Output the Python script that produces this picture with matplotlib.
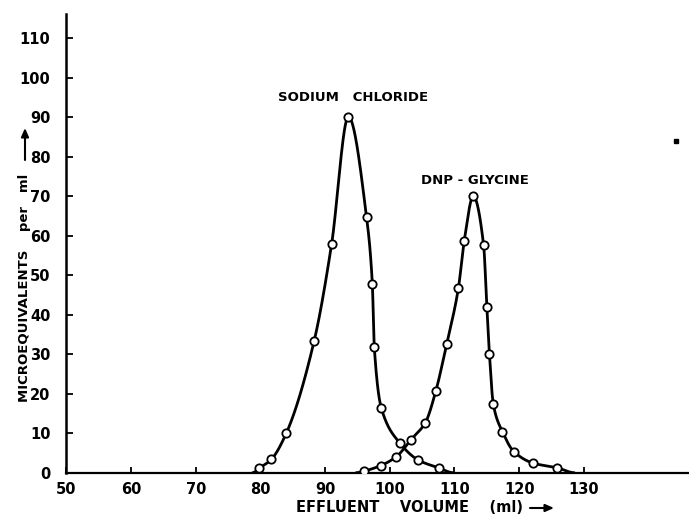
import numpy as np
import matplotlib
matplotlib.use("Agg")
import matplotlib.pyplot as plt

# ---- data ----
nacl_x = [79.8, 81.7, 84.0, 88.3, 91.0, 93.6, 96.4, 97.3, 97.6, 98.7, 101.5, 104.4, 107.6]
nacl_y = [1.1, 3.4, 10.0, 33.3, 57.8, 90.1, 64.8, 47.8, 31.9, 16.3, 7.6, 3.2, 1.2]
nacl_start = (78.8, 0.0)
nacl_end = (109.8, 0.0)

dnp_x = [96.0, 98.6, 101.0, 103.3, 105.5, 107.1, 108.8, 110.6, 111.5, 112.9,
         114.5, 115.0, 115.4, 116.0, 117.4, 119.2, 122.2, 125.9]
dnp_y = [0.4, 1.8, 4.05, 8.4, 12.7, 20.6, 32.7, 46.7, 58.7, 70.0,
         57.6, 42.0, 30.0, 17.3, 10.4, 5.3, 2.4, 1.25]
dnp_start = (94.8, 0.0)
dnp_end = (128.5, 0.0)

x_ticks = [50, 60, 70, 80, 90, 100, 110, 120, 130]
y_ticks = [0, 10, 20, 30, 40, 50, 60, 70, 80, 90, 100, 110]

label_nacl = "SODIUM   CHLORIDE"
label_dnp = "DNP - GLYCINE"
label_nacl_pos = (94.3, 95.1)
label_dnp_pos = (113.2, 74.1)

speck_x = [144.2]
speck_y = [84.0]

W, H = 689, 516


def pchip(x, y, xs):
    x = np.asarray(x, float)
    y = np.asarray(y, float)
    h = np.diff(x)
    delta = np.diff(y) / h
    n = len(x)
    d = np.zeros(n)
    for k in range(1, n - 1):
        if delta[k - 1] * delta[k] > 0:
            w1 = 2 * h[k] + h[k - 1]
            w2 = h[k] + 2 * h[k - 1]
            d[k] = (w1 + w2) / (w1 / delta[k - 1] + w2 / delta[k])
    d[0] = 0.0 if y[0] == 0 else delta[0]
    d[-1] = 0.0 if y[-1] == 0 else delta[-1]
    out = np.empty_like(xs)
    idx = np.clip(np.searchsorted(x, xs) - 1, 0, n - 2)
    for i, xv in enumerate(xs):
        k = idx[i]
        t = (xv - x[k]) / h[k]
        h00 = 2 * t**3 - 3 * t**2 + 1
        h10 = t**3 - 2 * t**2 + t
        h01 = -2 * t**3 + 3 * t**2
        h11 = t**3 - t**2
        out[i] = h00 * y[k] + h10 * h[k] * d[k] + h01 * y[k + 1] + h11 * h[k] * d[k + 1]
    return out


fig = plt.figure(figsize=(W / 100, H / 100), dpi=100)
ax = fig.add_axes([66.3 / W, (H - 472.7) / H, (W - 66.3) / W, (472.7 - 14) / H])

# NaCl curve
cx = [nacl_start[0]] + nacl_x + [nacl_end[0]]
cy = [nacl_start[1]] + nacl_y + [nacl_end[1]]
xs = np.linspace(cx[0], cx[-1], 800)
ax.plot(xs, pchip(cx, cy, xs), color="black", lw=2.0, solid_capstyle="round", zorder=2)

# DNP curve
dx = [dnp_start[0]] + dnp_x + [dnp_end[0]]
dy = [dnp_start[1]] + dnp_y + [dnp_end[1]]
xs2 = np.linspace(dx[0], dx[-1], 800)
ax.plot(xs2, pchip(dx, dy, xs2), color="black", lw=2.0, solid_capstyle="round", zorder=2)

mk = dict(ls="none", marker="o", ms=6, mfc="white", mec="black", mew=1.3, zorder=3)
ax.plot(nacl_x, nacl_y, **mk)
ax.plot(dnp_x, dnp_y, **mk)

ax.plot(speck_x, speck_y, ls="none", marker="s", ms=2.5, color="black", clip_on=False)

ax.text(label_nacl_pos[0], label_nacl_pos[1], label_nacl, ha="center", va="center",
        fontsize=9.5, fontweight="bold")
ax.text(label_dnp_pos[0], label_dnp_pos[1], label_dnp, ha="center", va="center",
        fontsize=9.5, fontweight="bold")

ax.set_xlim(50, 50 + (W - 66.3) / 6.47)
ax.set_ylim(0, (472.7 - 14) / 3.95)
ax.set_xticks(x_ticks)
ax.set_xticklabels([str(v) for v in x_ticks], fontsize=10.5, fontweight="bold")
ax.set_yticks(y_ticks)
ax.set_yticklabels([str(v) for v in y_ticks], fontsize=10.5, fontweight="bold")
ax.tick_params(axis="both", direction="in", width=1.3, colors="black")
ax.tick_params(axis="y", pad=11.5, length=5)
ax.tick_params(axis="x", pad=7, length=4)
for s in ["top", "right"]:
    ax.spines[s].set_visible(False)
ax.spines["left"].set_linewidth(1.8)
ax.spines["bottom"].set_linewidth(1.6)

# x axis title + arrow
fig.text(523 / W, 1 - 508 / H, "EFFLUENT    VOLUME    (ml)", ha="right", va="center",
         fontsize=10.5, fontweight="bold")
fig.add_artist(matplotlib.patches.FancyArrowPatch(
    (530 / W, 1 - 508 / H), (554 / W, 1 - 508 / H), transform=fig.transFigure,
    arrowstyle="-|>,head_length=5,head_width=2.2", lw=1.5, color="black",
    mutation_scale=1, shrinkA=0, shrinkB=0))

# y axis title + arrow
fig.text(25 / W, 1 - 402 / H, "MICROEQUIVALENTS    per   ml", ha="center", va="bottom",
         rotation=90, fontsize=9.5, fontweight="bold")
fig.add_artist(matplotlib.patches.FancyArrowPatch(
    (25 / W, 1 - 160 / H), (25 / W, 1 - 128 / H), transform=fig.transFigure,
    arrowstyle="-|>,head_length=5,head_width=2.2", lw=1.5, color="black",
    mutation_scale=1, shrinkA=0, shrinkB=0))

fig.savefig("out.png", dpi=100, facecolor="white")
